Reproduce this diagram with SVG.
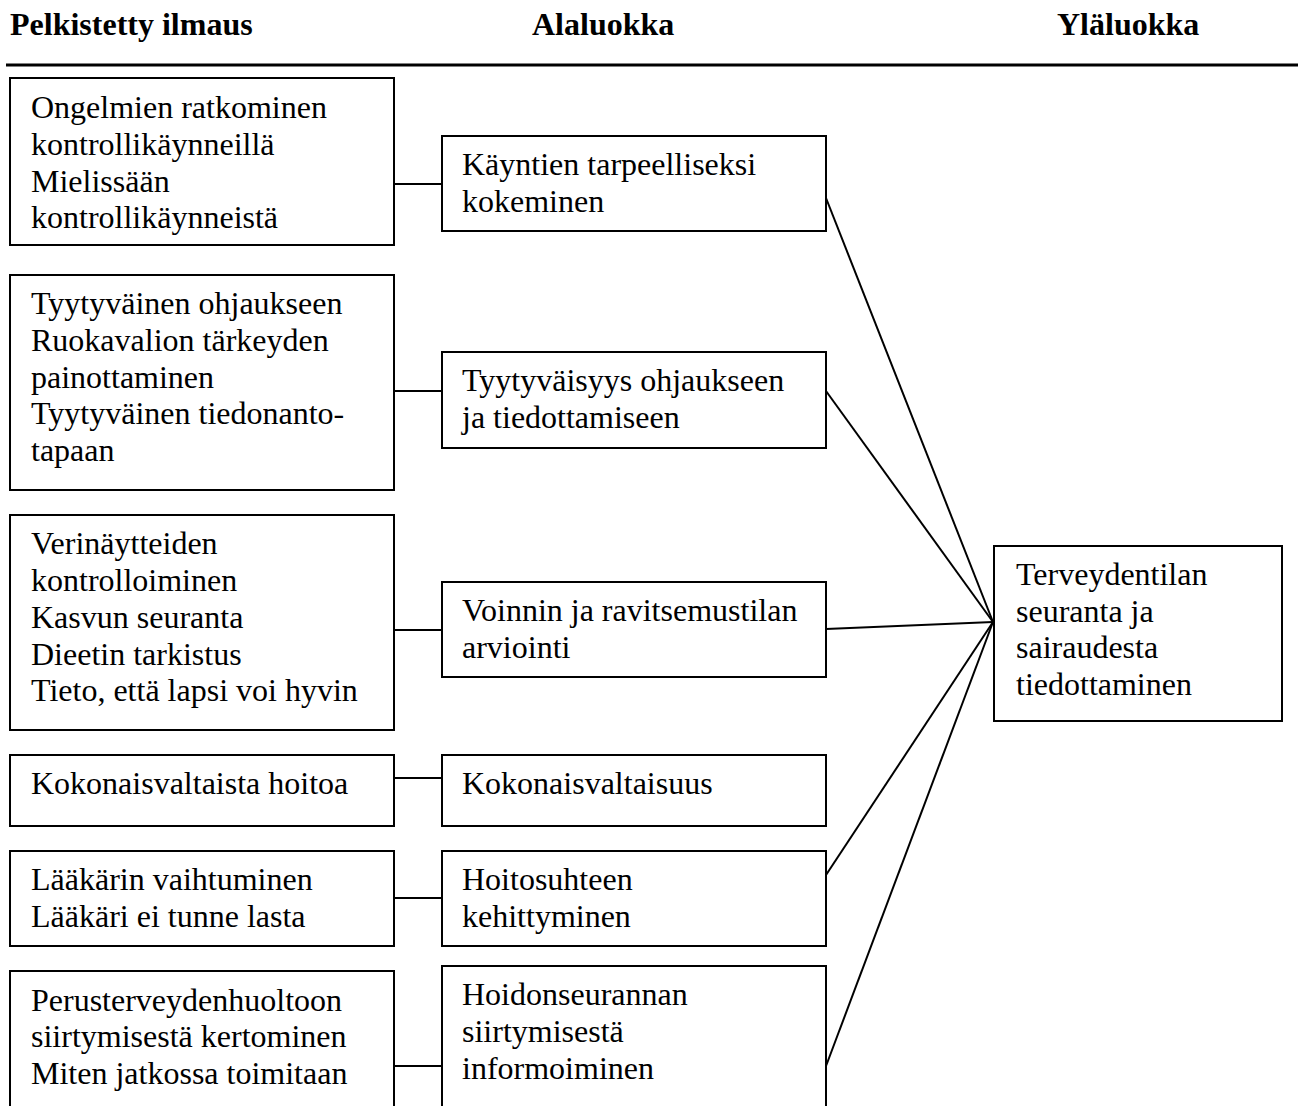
<svg xmlns="http://www.w3.org/2000/svg" width="1300" height="1106" viewBox="0 0 1300 1106">
  <style>
    .box { fill: #ffffff; stroke: #000000; stroke-width: 2; }
    .t { font-family: "Liberation Serif", "Times New Roman", serif; font-size: 32px; fill: #000000; }
    .h { font-family: "Liberation Serif", "Times New Roman", serif; font-size: 32px; font-weight: bold; fill: #000000; }
    .link { stroke: #000000; stroke-width: 2; fill: none; }
  </style>
  <rect width="1300" height="1106" fill="#ffffff"/>

  <!-- column headings -->
  <g id="headings">
    <text class="h" x="10" y="35">Pelkistetty ilmaus</text>
    <text class="h" x="532" y="35">Alaluokka</text>
    <text class="h" x="1057" y="35">Yläluokka</text>
    <line x1="6" y1="65" x2="1298" y2="65" stroke="#000000" stroke-width="3"/>
  </g>

  <!-- connectors -->
  <g id="connectors">
    <line class="link" x1="394" y1="184" x2="442" y2="184"/>
    <line class="link" x1="394" y1="391" x2="442" y2="391"/>
    <line class="link" x1="394" y1="630" x2="442" y2="630"/>
    <line class="link" x1="394" y1="778" x2="442" y2="778"/>
    <line class="link" x1="394" y1="898" x2="442" y2="898"/>
    <line class="link" x1="394" y1="1066" x2="442" y2="1066"/>
    <line class="link" x1="826" y1="198" x2="993" y2="622"/>
    <line class="link" x1="826" y1="391" x2="993" y2="622"/>
    <line class="link" x1="826" y1="629" x2="993" y2="622"/>
    <line class="link" x1="826" y1="875" x2="993" y2="622"/>
    <line class="link" x1="826" y1="1066" x2="993" y2="622"/>
  </g>

  <!-- reduced expressions -->
  <g id="a1">
    <rect class="box" x="10" y="78" width="384" height="167"/>
    <text class="t" x="31" y="118">Ongelmien ratkominen</text>
    <text class="t" x="31" y="155">kontrollikäynneillä</text>
    <text class="t" x="31" y="192">Mielissään</text>
    <text class="t" x="31" y="228">kontrollikäynneistä</text>
  </g>
  <g id="a2">
    <rect class="box" x="10" y="275" width="384" height="215"/>
    <text class="t" x="31" y="314">Tyytyväinen ohjaukseen</text>
    <text class="t" x="31" y="351">Ruokavalion tärkeyden</text>
    <text class="t" x="31" y="388">painottaminen</text>
    <text class="t" x="31" y="424">Tyytyväinen tiedonanto-</text>
    <text class="t" x="31" y="461">tapaan</text>
  </g>
  <g id="a3">
    <rect class="box" x="10" y="515" width="384" height="215"/>
    <text class="t" x="31" y="554">Verinäytteiden</text>
    <text class="t" x="31" y="591">kontrolloiminen</text>
    <text class="t" x="31" y="628">Kasvun seuranta</text>
    <text class="t" x="31" y="665">Dieetin tarkistus</text>
    <text class="t" x="31" y="701">Tieto, että lapsi voi hyvin</text>
  </g>
  <g id="a4">
    <rect class="box" x="10" y="755" width="384" height="71"/>
    <text class="t" x="31" y="794">Kokonaisvaltaista hoitoa</text>
  </g>
  <g id="a5">
    <rect class="box" x="10" y="851" width="384" height="95"/>
    <text class="t" x="31" y="890">Lääkärin vaihtuminen</text>
    <text class="t" x="31" y="927">Lääkäri ei tunne lasta</text>
  </g>
  <g id="a6">
    <rect class="box" x="10" y="971" width="384" height="145"/>
    <text class="t" x="31" y="1011">Perusterveydenhuoltoon</text>
    <text class="t" x="31" y="1047">siirtymisestä kertominen</text>
    <text class="t" x="31" y="1084">Miten jatkossa toimitaan</text>
  </g>

  <!-- subcategories -->
  <g id="b1">
    <rect class="box" x="442" y="136" width="384" height="95"/>
    <text class="t" x="462" y="175">Käyntien tarpeelliseksi</text>
    <text class="t" x="462" y="212">kokeminen</text>
  </g>
  <g id="b2">
    <rect class="box" x="442" y="352" width="384" height="96"/>
    <text class="t" x="462" y="391">Tyytyväisyys ohjaukseen</text>
    <text class="t" x="462" y="428">ja tiedottamiseen</text>
  </g>
  <g id="b3">
    <rect class="box" x="442" y="582" width="384" height="95"/>
    <text class="t" x="462" y="621">Voinnin ja ravitsemustilan</text>
    <text class="t" x="462" y="658">arviointi</text>
  </g>
  <g id="b4">
    <rect class="box" x="442" y="755" width="384" height="71"/>
    <text class="t" x="462" y="794">Kokonaisvaltaisuus</text>
  </g>
  <g id="b5">
    <rect class="box" x="442" y="851" width="384" height="95"/>
    <text class="t" x="462" y="890">Hoitosuhteen</text>
    <text class="t" x="462" y="927">kehittyminen</text>
  </g>
  <g id="b6">
    <rect class="box" x="442" y="966" width="384" height="150"/>
    <text class="t" x="462" y="1005">Hoidonseurannan</text>
    <text class="t" x="462" y="1042">siirtymisestä</text>
    <text class="t" x="462" y="1079">informoiminen</text>
  </g>

  <!-- main category -->
  <g id="c1">
    <rect class="box" x="994" y="546" width="288" height="175"/>
    <text class="t" x="1016" y="585">Terveydentilan</text>
    <text class="t" x="1016" y="622">seuranta ja</text>
    <text class="t" x="1016" y="658">sairaudesta</text>
    <text class="t" x="1016" y="695">tiedottaminen</text>
  </g>
</svg>
